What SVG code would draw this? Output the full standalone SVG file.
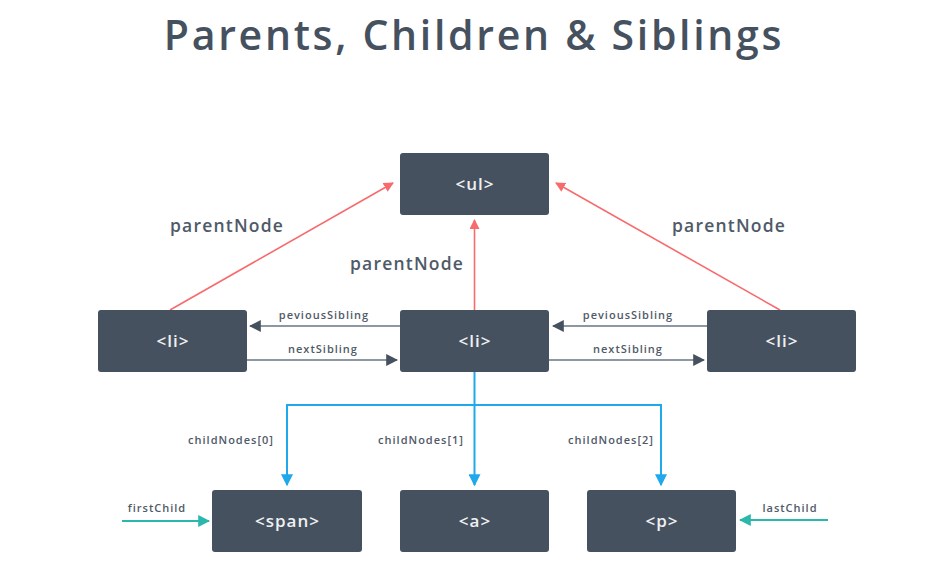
<svg xmlns="http://www.w3.org/2000/svg" width="944" height="583" viewBox="0 0 944 583">
<style>
.box{fill:#46515f}
.bt{fill:#eef0f2;font-family:"Open Sans","Noto Sans",sans-serif;font-size:17px;font-weight:600;text-anchor:middle;letter-spacing:1px}
.lbl{fill:#4f5a68;font-family:"Open Sans","Noto Sans",sans-serif;font-weight:600}
.pn{font-size:17.5px;letter-spacing:1.2px}
.sm{font-size:11px;text-anchor:middle;letter-spacing:1px}
.red{stroke:#f86b6d;stroke-width:1.6;fill:none}
.gray{stroke:#8e98a3;stroke-width:2;fill:none}
.blue{stroke:#1fa9ea;stroke-width:2;fill:none}
.teal{stroke:#2ab7ac;stroke-width:2;fill:none}
</style>
<defs>
<marker id="mr" viewBox="0 0 10 10" refX="9" refY="5" markerWidth="10" markerHeight="10" markerUnits="userSpaceOnUse" orient="auto"><path d="M0,0 L10,5 L0,10 Z" fill="#f86b6d"/></marker>
<marker id="mg" viewBox="0 0 10 10" refX="9" refY="5" markerWidth="12" markerHeight="12" markerUnits="userSpaceOnUse" orient="auto"><path d="M0,0 L10,5 L0,10 Z" fill="#46515f"/></marker>
<marker id="mb" viewBox="0 0 10 10" refX="9" refY="5" markerWidth="12" markerHeight="12" markerUnits="userSpaceOnUse" orient="auto"><path d="M0,0 L10,5 L0,10 Z" fill="#1fa9ea"/></marker>
<marker id="mt" viewBox="0 0 10 10" refX="9" refY="5" markerWidth="12" markerHeight="12" markerUnits="userSpaceOnUse" orient="auto"><path d="M0,0 L10,5 L0,10 Z" fill="#2ab7ac"/></marker>
</defs>
<rect width="944" height="583" fill="#ffffff"/>
<text x="474" y="50" fill="#46515f" font-family="'Open Sans','Noto Sans',sans-serif" font-size="41" font-weight="600" letter-spacing="2.7" text-anchor="middle">Parents, Children &amp; Siblings</text>

<g id="connectors">
<line class="red" x1="170" y1="310" x2="393" y2="183" marker-end="url(#mr)"/>
<line class="red" x1="474.5" y1="310" x2="474.5" y2="220" marker-end="url(#mr)"/>
<line class="red" x1="780" y1="310" x2="556" y2="183" marker-end="url(#mr)"/>
<line class="gray" x1="400" y1="326" x2="250" y2="326" marker-end="url(#mg)"/>
<line class="gray" x1="247" y1="360" x2="397" y2="360" marker-end="url(#mg)"/>
<line class="gray" x1="707" y1="326" x2="553" y2="326" marker-end="url(#mg)"/>
<line class="gray" x1="549" y1="360" x2="704" y2="360" marker-end="url(#mg)"/>
<line class="blue" x1="474.5" y1="372" x2="474.5" y2="485" marker-end="url(#mb)"/>
<polyline class="blue" points="287,485 287,405 661,405 661,485" marker-end="url(#mb)"/>
<line class="blue" x1="287" y1="410" x2="287" y2="485" marker-end="url(#mb)"/>
<line class="teal" x1="122" y1="521" x2="209" y2="521" marker-end="url(#mt)"/>
<line class="teal" x1="828" y1="520" x2="740" y2="520" marker-end="url(#mt)"/>
<text class="lbl pn" x="170" y="232">parentNode</text>
<text class="lbl pn" x="350" y="270">parentNode</text>
<text class="lbl pn" x="672" y="232">parentNode</text>
<text class="lbl sm" x="324" y="319">peviousSibling</text>
<text class="lbl sm" x="323" y="353">nextSibling</text>
<text class="lbl sm" x="628" y="319">peviousSibling</text>
<text class="lbl sm" x="628" y="353">nextSibling</text>
<text class="lbl sm" x="231" y="444">childNodes[0]</text>
<text class="lbl sm" x="421" y="444">childNodes[1]</text>
<text class="lbl sm" x="611" y="444">childNodes[2]</text>
<text class="lbl sm" x="157" y="512">firstChild</text>
<text class="lbl sm" x="790" y="512">lastChild</text>
</g>

<g id="ul"><rect class="box" x="400" y="153" width="149" height="62" rx="3"/><text class="bt" x="475" y="190">&lt;ul&gt;</text></g>
<g id="li-left"><rect class="box" x="98" y="310" width="149" height="62" rx="3"/><text class="bt" x="173" y="347">&lt;li&gt;</text></g>
<g id="li-mid"><rect class="box" x="400" y="310" width="149" height="62" rx="3"/><text class="bt" x="475" y="347">&lt;li&gt;</text></g>
<g id="li-right"><rect class="box" x="707" y="310" width="149" height="62" rx="3"/><text class="bt" x="782" y="347">&lt;li&gt;</text></g>
<g id="span"><rect class="box" x="212" y="490" width="150" height="62" rx="3"/><text class="bt" x="287.5" y="527">&lt;span&gt;</text></g>
<g id="a"><rect class="box" x="400" y="490" width="149" height="62" rx="3"/><text class="bt" x="475" y="527">&lt;a&gt;</text></g>
<g id="p"><rect class="box" x="587" y="490" width="149" height="62" rx="3"/><text class="bt" x="662" y="527">&lt;p&gt;</text></g>
</svg>
